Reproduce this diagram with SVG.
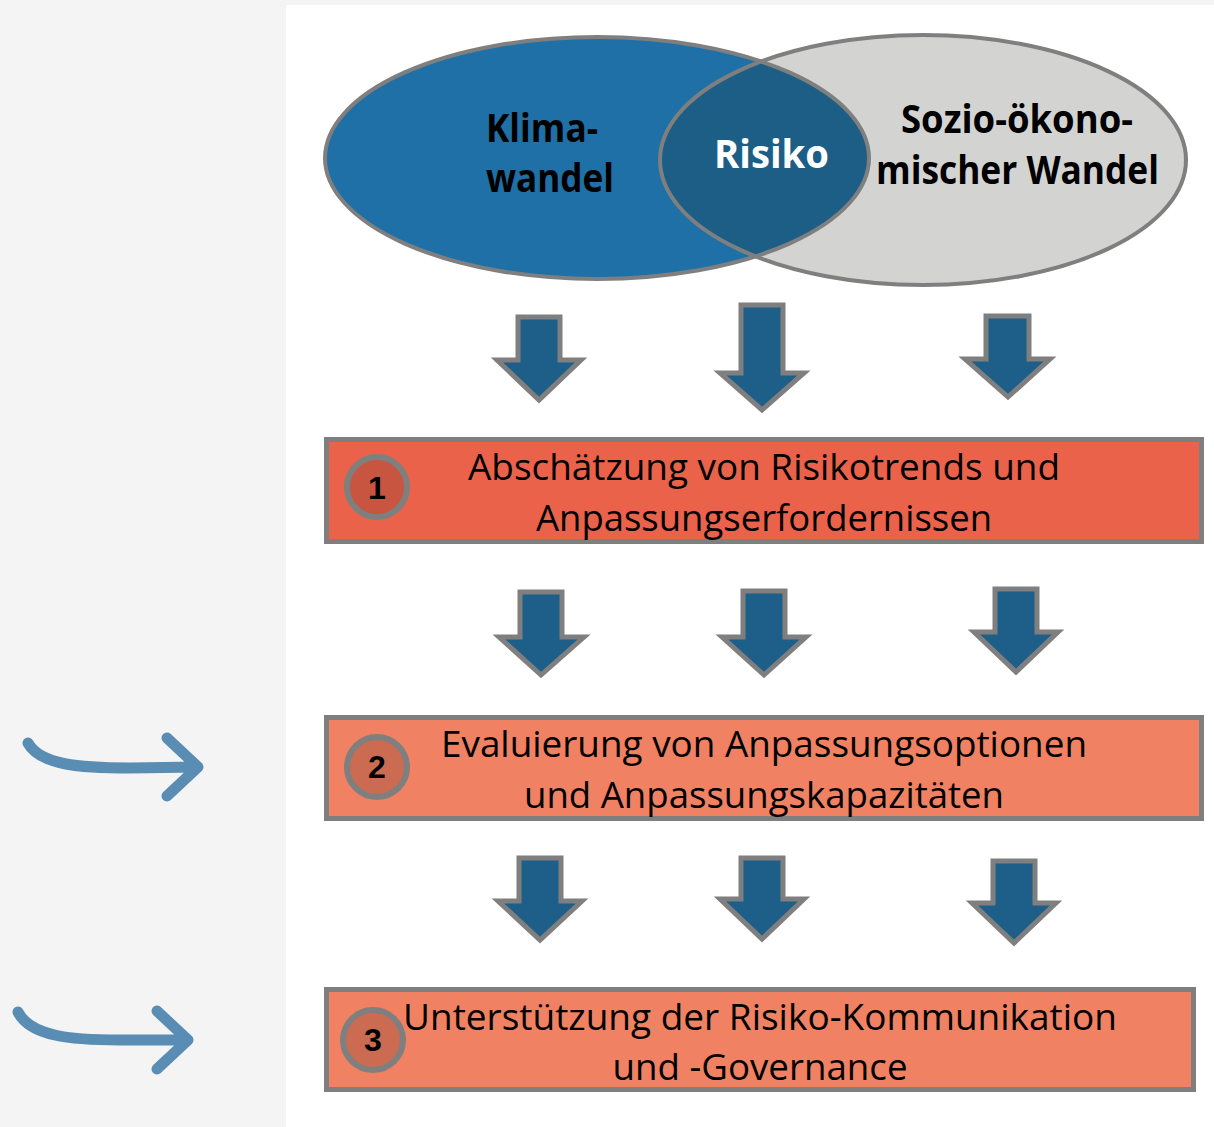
<svg xmlns="http://www.w3.org/2000/svg" width="1214" height="1127" viewBox="0 0 1214 1127">
<style>
.bg{fill:#f4f4f4}
.panel{fill:#ffffff}
.outline{fill:none;stroke:#7f7f7f;stroke-width:4}
.venn{font-family:"Open Sans","Liberation Sans",sans-serif;font-weight:bold;font-size:40px;fill:#000}
.box{stroke:#7f7f7f;stroke-width:5}
.btxt{font-family:"Open Sans","Liberation Sans",sans-serif;font-size:37px;fill:#000;text-anchor:middle}
.num{stroke:#7f7f7f;stroke-width:6}
.ntxt{font-family:"Liberation Sans",Arial,sans-serif;font-weight:bold;font-size:32px;fill:#000;text-anchor:middle}
.down{fill:#1d5f88;stroke:#7f7f7f;stroke-width:5;stroke-linejoin:miter}
.side{fill:none;stroke:#5a8db3;stroke-width:11;stroke-linecap:round;stroke-linejoin:round}
</style>
<defs>
<clipPath id="clipBlue"><ellipse cx="597" cy="158" rx="272" ry="121"/></clipPath>
</defs>
<rect class="bg" x="0" y="0" width="1214" height="1127"/>
<rect class="panel" x="286" y="5" width="928" height="1122"/>

<g id="venn">
<g id="klimawandel">
<ellipse cx="597" cy="158" rx="272" ry="121" fill="#1e70a6"/>
</g>
<g id="soziooekonomisch">
<ellipse cx="923" cy="160" rx="263" ry="125" fill="#d3d3d2"/>
</g>
<g id="risiko">
<ellipse cx="923" cy="160" rx="263" ry="125" fill="#1d5e87" clip-path="url(#clipBlue)"/>
</g>
<ellipse class="outline" cx="597" cy="158" rx="272" ry="121"/>
<ellipse class="outline" cx="923" cy="160" rx="263" ry="125"/>
<text class="venn" x="486" y="142" textLength="112" lengthAdjust="spacingAndGlyphs">Klima-</text>
<text class="venn" x="486" y="192" textLength="128" lengthAdjust="spacingAndGlyphs">wandel</text>
<text class="venn" x="714" y="168" style="fill:#ffffff" textLength="115" lengthAdjust="spacingAndGlyphs">Risiko</text>
<text class="venn" x="901" y="133" textLength="232" lengthAdjust="spacingAndGlyphs">Sozio-ökono-</text>
<text class="venn" x="876" y="184" textLength="283" lengthAdjust="spacingAndGlyphs">mischer Wandel</text>
</g>

<g id="connectors">
<path class="down" d="M518,317 H560 V360 H581 L539,400 L497,360 H518 Z"/>
<path class="down" d="M741,305 H783 V373 H804 L762,410 L720,373 H741 Z"/>
<path class="down" d="M986,316 H1029 V359 H1050 L1008,397 L965,359 H986 Z"/>

<path class="down" d="M520,592 H562 V637 H584 L541,675 L499,637 H520 Z"/>
<path class="down" d="M743,591 H785 V637 H806 L764,675 L722,637 H743 Z"/>
<path class="down" d="M995,589 H1037 V632 H1058 L1016,672 L974,632 H995 Z"/>

<path class="down" d="M519,858 H561 V901 H582 L540,940 L498,901 H519 Z"/>
<path class="down" d="M741,858 H783 V899 H804 L762,939 L720,899 H741 Z"/>
<path class="down" d="M993,861 H1035 V903 H1056 L1014,943 L972,903 H993 Z"/>

<path class="side" d="M28,743 C40,765 80,768 130,768 L198,767 M167,738 L198,767 L167,796"/>
<path class="side" d="M18,1012 C30,1036 70,1040 120,1040 L188,1040 M157,1011 L188,1040 L157,1069"/>
</g>

<g id="step1">
<rect class="box" x="326.5" y="439.5" width="875" height="102" fill="#eb624a"/>
<circle class="num" cx="377" cy="487" r="30" fill="#c8553f"/>
<text class="ntxt" x="377" y="499">1</text>
<text class="btxt" x="764" y="480" textLength="592" lengthAdjust="spacingAndGlyphs">Abschätzung von Risikotrends und</text>
<text class="btxt" x="764" y="531" textLength="456" lengthAdjust="spacingAndGlyphs">Anpassungserfordernissen</text>
</g>

<g id="step2">
<rect class="box" x="326.5" y="717.5" width="875" height="101" fill="#f08162"/>
<circle class="num" cx="377" cy="767" r="30" fill="#cb6b51"/>
<text class="ntxt" x="377" y="778">2</text>
<text class="btxt" x="764" y="757" textLength="646" lengthAdjust="spacingAndGlyphs">Evaluierung von Anpassungsoptionen</text>
<text class="btxt" x="764" y="808" textLength="480" lengthAdjust="spacingAndGlyphs">und Anpassungskapazitäten</text>
</g>

<g id="step3">
<rect class="box" x="326.5" y="989.5" width="867" height="100" fill="#f08162"/>
<circle class="num" cx="373" cy="1040" r="30" fill="#cb6b51"/>
<text class="ntxt" x="373" y="1051">3</text>
<text class="btxt" x="760" y="1030" textLength="714" lengthAdjust="spacingAndGlyphs">Unterstützung der Risiko-Kommunikation</text>
<text class="btxt" x="760" y="1080" textLength="295" lengthAdjust="spacingAndGlyphs">und -Governance</text>
</g>
</svg>
